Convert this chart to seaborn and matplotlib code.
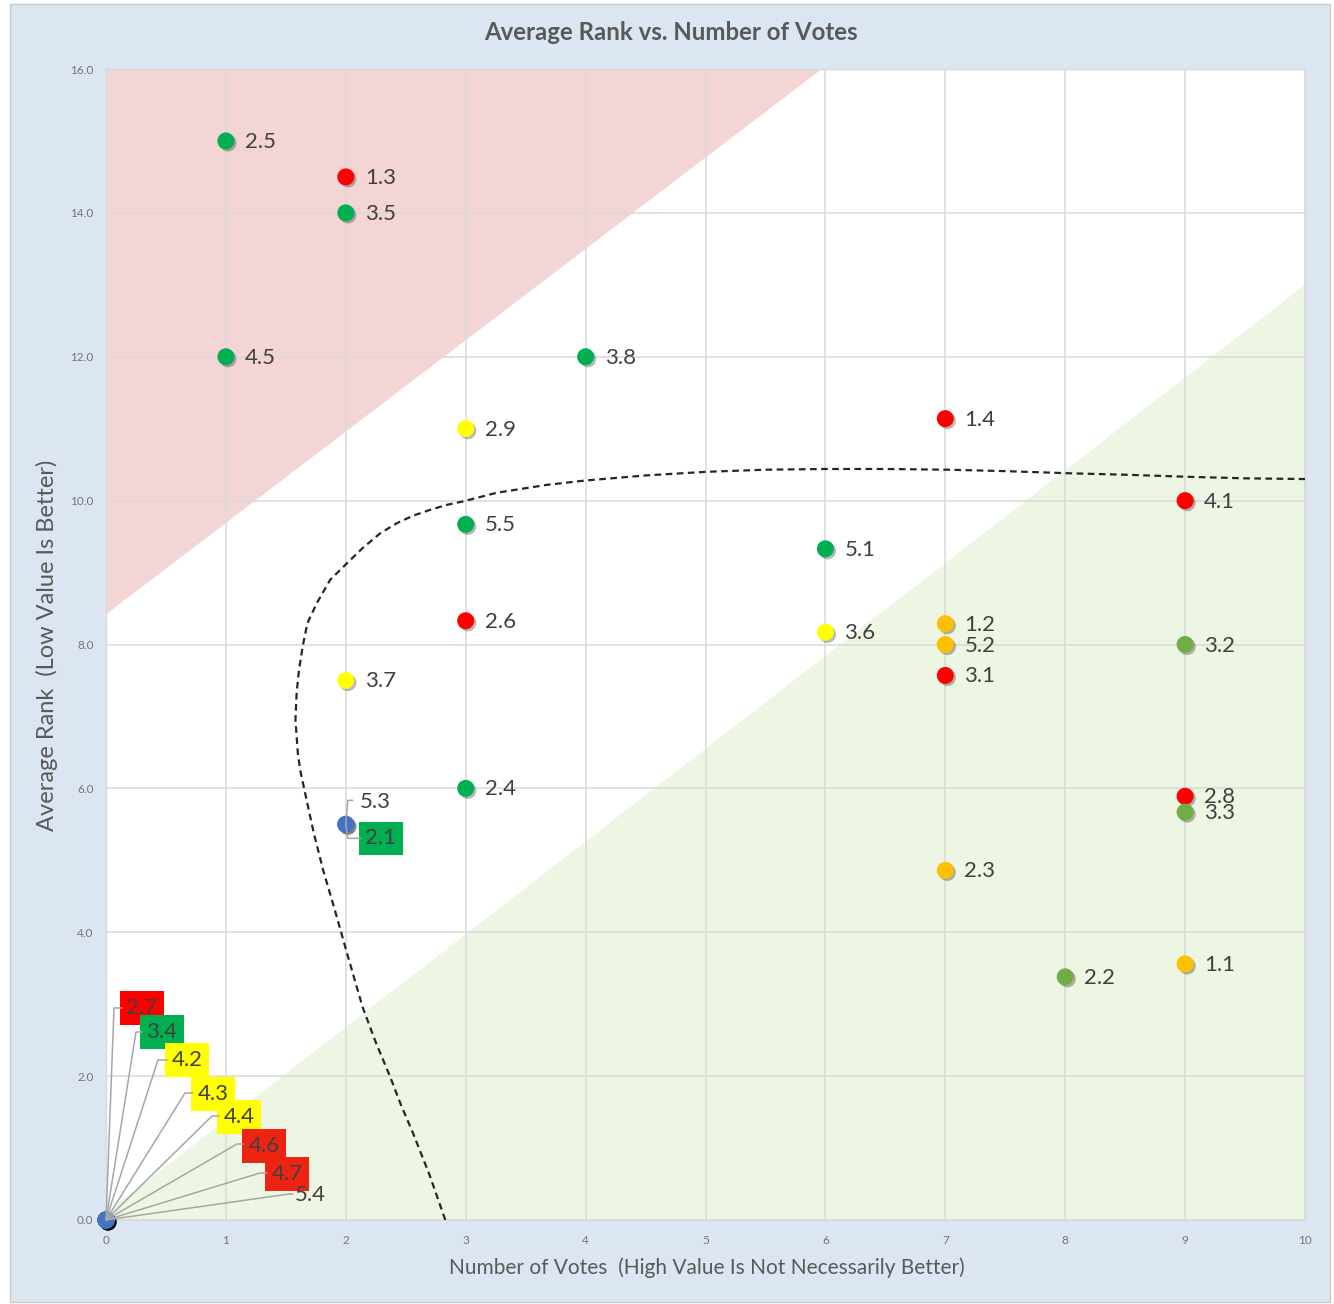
import numpy as np
import pandas as pd
import matplotlib
matplotlib.use("Agg")
import matplotlib.pyplot as plt
import matplotlib.patheffects as pe
from matplotlib.patches import Rectangle
from matplotlib.lines import Line2D
from matplotlib.transforms import IdentityTransform
import seaborn as sns

# ---- data -------------------------------------------------------------
labels = ["2.5", "1.3", "3.5", "4.5", "3.8", "2.9", "1.4", "5.5", "4.1", "5.1",
          "2.6", "1.2", "5.2", "3.6", "3.2", "3.1", "3.7", "2.4", "2.8", "3.3",
          "2.3", "2.2", "1.1", "5.3", "2.1",
          "2.7", "3.4", "4.2", "4.3", "4.4", "4.6", "4.7", "5.4"]
votes = [1, 2, 2, 1, 4, 3, 7, 3, 9, 6,
         3, 7, 7, 6, 9, 7, 2, 3, 9, 9,
         7, 8, 9, 2, 2,
         0, 0, 0, 0, 0, 0, 0, 0]
avg_rank = [15.0, 14.5, 14.0, 12.0, 12.0, 11.0, 11.14, 9.67, 10.0, 9.33,
            8.33, 8.29, 8.0, 8.17, 8.0, 7.57, 7.5, 6.0, 5.89, 5.67,
            4.86, 3.38, 3.56, 5.5, 5.5,
            0.0, 0.0, 0.0, 0.0, 0.0, 0.0, 0.0, 0.0]
status = ["green", "red", "green", "green", "green", "yellow", "red", "green", "red", "green",
          "red", "amber", "amber", "yellow", "olive", "red", "yellow", "green", "red", "olive",
          "amber", "olive", "amber", "none", "green",
          "red", "green", "yellow", "yellow", "yellow", "red2", "red2", "none"]

# shaded zones (data coordinates)
poor_zone_x = [0.0, 5.97, 0.0]
poor_zone_y = [8.42, 16.0, 16.0]
good_zone_x = [0.0, 10.0, 10.0, 0.0]
good_zone_y = [0.1, 13.0, 0.0, 0.0]

# dashed boundary curve
boundary_x = [2.83, 2.70, 2.56, 2.46, 2.37, 2.25, 2.14, 2.01, 1.91, 1.81, 1.73, 1.66,
              1.62, 1.60, 1.58, 1.59, 1.61, 1.64, 1.68, 1.76, 1.87, 2.01, 2.14, 2.29,
              2.43, 2.56, 2.70, 2.84, 2.98, 3.26, 3.68, 4.00, 4.50, 5.00, 5.50, 6.01,
              6.50, 7.02, 7.50, 8.04, 8.50, 9.05, 9.50, 10.0]
boundary_y = [0.0, 0.62, 1.21, 1.60, 1.99, 2.47, 2.96, 3.71, 4.30, 4.87, 5.40, 5.94,
              6.25, 6.49, 6.95, 7.33, 7.65, 7.97, 8.30, 8.58, 8.90, 9.13, 9.34, 9.55,
              9.69, 9.79, 9.87, 9.94, 9.99, 10.11, 10.22, 10.28, 10.35, 10.40, 10.43, 10.44,
              10.44, 10.43, 10.41, 10.38, 10.36, 10.33, 10.31, 10.30]

# ---- styling ----------------------------------------------------------
palette = {"green": "#00b050", "red": "#ff0000", "red2": "#ee2412", "yellow": "#ffff00",
           "amber": "#ffc000", "olive": "#70ad47", "none": "#4472c4", "callout": "#4472c4"}
text_color = "#404040"

# callout placement in pixels relative to the point:
# (text centre dx, dy, elbow dx, elbow dy, leader end dx, boxed)
callouts = {
    "2.7": (36, 212, 8, 212, 16, True),
    "3.4": (56, 188, 30, 188, 36, True),
    "4.2": (81, 160, 52, 160, 61, True),
    "4.3": (107, 126, 79, 127, 87, True),
    "4.4": (133, 103, 106, 104, 113, True),
    "4.6": (158, 74, 131, 76, 137, True),
    "4.7": (181, 46, 154, 47, 161, True),
    "5.4": (204, 25, 183, 26, 187, False),
    "5.3": (29, 22, 2, 24, 7, False),
    "2.1": (35, -14, 2, -14, 15, True),
}

sns.set_theme(style="white")
plt.rcParams["font.family"] = ["Lato", "DejaVu Sans"]

W, H = 1334, 1304
fig = plt.figure(figsize=(W / 100, H / 100), dpi=100, facecolor="white")
fig.patches.append(Rectangle((10 / W, 2 / H), 1320 / W, 1298 / H, transform=fig.transFigure,
                             facecolor="#dce6f2", edgecolor="#c9c9c9", lw=1, zorder=-10))
ax = fig.add_axes([106 / W, 84 / H, 1199 / W, 1151 / H])
ax.set_facecolor("white")

ax.fill(poor_zone_x, poor_zone_y, color="#f3d5d6", lw=0, zorder=0.2)
ax.fill(good_zone_x, good_zone_y, color="#edf5e3", lw=0, zorder=0.2)

ax.plot(boundary_x, boundary_y, color="#262626", lw=1.6, ls=(0, (3, 2)), zorder=3,
        solid_joinstyle="round", dash_joinstyle="round")

df = pd.DataFrame({"label": labels, "votes": votes, "rank": avg_rank, "status": status})
df["dot"] = [("callout" if (lab in callouts) else st) for lab, st in zip(labels, status)]

sns.scatterplot(data=df, x="votes", y="rank", hue="dot", palette=palette, s=150,
                edgecolor="none", linewidth=0, legend=False, ax=ax, zorder=5)
dots = ax.collections[-1]
dots.set_clip_on(False)
dots.set_path_effects([pe.SimplePatchShadow(offset=(1.5, -1.5), shadow_rgbFace="black", alpha=0.28),
                       pe.Normal()])

ax.set_xlim(0, 10)
ax.set_ylim(0, 16)
ax.set_xticks(range(0, 11))
ax.set_yticks(range(0, 17, 2))
ax.set_yticklabels([f"{v:.1f}" for v in range(0, 17, 2)])
ax.tick_params(axis="both", length=0, labelsize=8.5, colors="#757575")
ax.tick_params(axis="y", pad=9)
ax.tick_params(axis="x", pad=11)
ax.set_axisbelow(True)
ax.grid(True, color="#d9d9d9", lw=1.1)
for sp in ax.spines.values():
    sp.set_color("#d9d9d9")
    sp.set_linewidth(1)
ax.set_xlabel("")
ax.set_ylabel("")

# point labels
for lab, x, y, st in zip(labels, votes, avg_rank, status):
    if lab in callouts:
        continue
    ax.annotate(lab, (x, y), xytext=(19, -1), textcoords="offset pixels",
                ha="left", va="center", fontsize=16, color=text_color, zorder=6)

# callouts with leader lines
fig.canvas.draw()
for lab, x, y, st in zip(labels, votes, avg_rank, status):
    if lab not in callouts:
        continue
    tx, ty, ex, ey, lx, boxed = callouts[lab]
    base = ax.transData.transform((x, y))
    pts = np.array([[0, 0], [ex, ey], [lx, ey]], dtype=float) + base
    fig.add_artist(Line2D(pts[:, 0], pts[:, 1], transform=IdentityTransform(),
                          color="#a6a6a6", lw=1.1, zorder=3))
    bbox = dict(boxstyle="square,pad=0.3", fc=palette[st], ec="none") if boxed else None
    ax.annotate(lab, (x, y), xytext=(tx, ty), textcoords="offset pixels",
                ha="center", va="center", fontsize=16, color=text_color,
                bbox=bbox, zorder=7, annotation_clip=False)

fig.text(670.5 / W, 1 - 33 / H, "Average Rank vs. Number of Votes", ha="center", va="center",
         fontsize=17.3, fontweight="bold", color="#595959")
fig.text(706.5 / W, 1 - 1268 / H, "Number of Votes  (High Value Is Not Necessarily Better)",
         ha="center", va="center", fontsize=15, color="#595959")
fig.text(47 / W, 1 - 645.5 / H, "Average Rank  (Low Value Is Better)", ha="center", va="center",
         rotation=90, fontsize=17, color="#595959")

fig.savefig("out.png", dpi=100, facecolor=fig.get_facecolor())
